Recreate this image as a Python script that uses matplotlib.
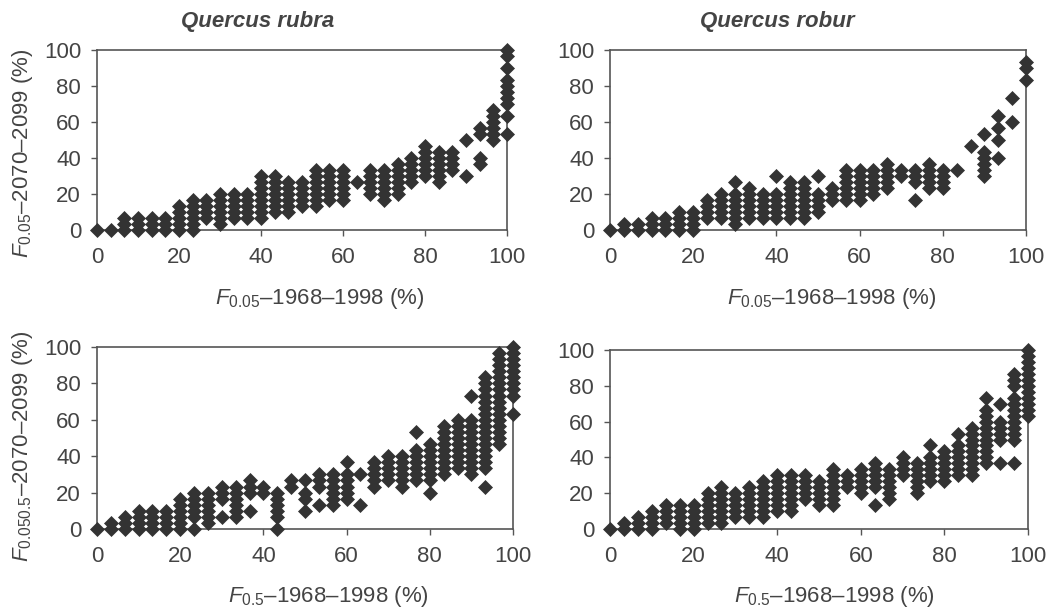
import matplotlib
matplotlib.use("Agg")
import matplotlib.pyplot as plt

# ==============================
# FONTS
# ==============================
plt.rcParams['font.family'] = ['Liberation Sans', 'DejaVu Sans']
plt.rcParams['mathtext.fontset'] = 'custom'
plt.rcParams['mathtext.rm'] = 'Liberation Sans'
plt.rcParams['mathtext.it'] = 'Liberation Sans:italic'
plt.rcParams['mathtext.bf'] = 'Liberation Sans:bold'

# ==============================
# DATA (number of frost years out of 30)
# ==============================
YEARS = 30
X_COLS = [0, 1, 2, 3, 4, 5, 6, 7, 8, 9, 10, 11, 12, 13, 14, 15,
          16, 17, 18, 19, 20, 21, 22, 23, 24, 25, 26, 27, 28, 29, 30]

# Quercus rubra, F0.05
rubra_005 = [
    [0], [0], [0, 1, 2], [0, 1, 2], [0, 1, 2], [0, 1, 2],
    [0, 1, 2, 3, 4], [0, 1, 2, 3, 4, 5], [2, 3, 4, 5], [1, 2, 3, 4, 5, 6],
    [2, 3, 4, 5, 6], [2, 3, 4, 5, 6], [2, 3, 4, 5, 6, 7, 8, 9],
    [3, 4, 5, 6, 7, 8, 9], [3, 4, 5, 6, 7, 8], [4, 5, 6, 7, 8],
    [4, 5, 6, 7, 8, 9, 10], [5, 6, 7, 8, 9, 10], [5, 6, 7, 8, 9, 10], [8],
    [6, 7, 8, 9, 10], [5, 6, 7, 8, 9, 10], [6, 7, 8, 9, 10, 11],
    [8, 9, 10, 11, 12], [9, 10, 11, 12, 13, 14], [8, 9, 10, 11, 12, 13],
    [10, 11, 12, 13], [9, 15], [11, 12, 16, 17], [15, 16, 17, 18, 19, 20],
    [16, 19, 21, 22, 23, 24, 25, 27, 29, 30],
]

# Quercus robur, F0.05
robur_005 = [
    [0], [0, 1], [0, 1], [0, 1, 2], [0, 1, 2], [0, 1, 2, 3], [0, 1, 2, 3],
    [2, 3, 4, 5], [2, 3, 4, 5, 6], [1, 2, 3, 4, 5, 6, 8], [2, 3, 4, 5, 6, 7],
    [2, 3, 4, 5, 6], [2, 3, 4, 5, 6, 9], [2, 3, 4, 5, 6, 7, 8],
    [2, 3, 4, 5, 6, 7, 8], [3, 4, 5, 6, 9], [5, 6, 7], [5, 6, 7, 8, 9, 10],
    [5, 6, 7, 8, 9, 10], [6, 7, 8, 9, 10], [7, 8, 9, 10, 11], [9, 10],
    [5, 8, 9, 10], [7, 8, 9, 10, 11], [7, 8, 9, 10], [10], [14],
    [9, 10, 11, 12, 13, 16], [12, 15, 17, 19], [18, 22], [25, 27, 28],
]

# Quercus rubra, F0.5
rubra_05 = [
    [0], [0, 1], [0, 1, 2], [0, 1, 2, 3], [0, 1, 2, 3], [0, 1, 2, 3],
    [0, 1, 2, 3, 4, 5], [0, 2, 3, 4, 5, 6], [1, 2, 3, 4, 5, 6], [2, 5, 6, 7],
    [2, 3, 4, 5, 6, 7], [3, 6, 7, 8], [6, 7], [0, 2, 3, 4, 5, 6], [7, 8],
    [3, 5, 6, 8], [4, 7, 8, 9], [4, 5, 6, 7, 8, 9], [5, 6, 7, 8, 9, 11],
    [4, 9], [7, 8, 9, 10, 11], [8, 9, 10, 11, 12], [7, 8, 9, 10, 11, 12],
    [8, 9, 10, 11, 12, 13, 16], [6, 8, 9, 10, 11, 12, 13, 14],
    [9, 10, 11, 12, 13, 14, 15, 16, 17],
    [10, 11, 12, 13, 14, 15, 16, 17, 18],
    [9, 10, 11, 12, 13, 14, 15, 16, 17, 18, 22],
    [7, 10, 11, 12, 13, 14, 15, 16, 17, 18, 19, 20, 21, 22, 23, 24, 25],
    [14, 15, 16, 17, 18, 19, 20, 21, 22, 23, 24, 25, 26, 27, 28, 29],
    [19, 22, 23, 24, 25, 26, 27, 28, 29, 30],
]

# Quercus robur, F0.5
robur_05 = [
    [0], [0, 1], [0, 1, 2], [0, 1, 2, 3], [1, 2, 3, 4], [0, 1, 2, 3, 4],
    [0, 1, 2, 3, 4], [1, 2, 3, 4, 5, 6], [1, 2, 3, 4, 5, 6, 7],
    [2, 3, 4, 5, 6], [2, 3, 4, 5, 6, 7], [2, 3, 4, 5, 6, 7, 8],
    [3, 4, 5, 6, 7, 8, 9], [3, 4, 5, 6, 7, 8, 9], [5, 6, 7, 8, 9],
    [4, 5, 6, 7, 8], [4, 5, 6, 7, 8, 9, 10], [7, 8, 9], [6, 7, 8, 9, 10],
    [4, 7, 8, 9, 10, 11], [5, 6, 7, 8, 9, 10], [9, 10, 11, 12],
    [6, 7, 8, 9, 10, 11], [8, 9, 10, 11, 12, 14], [8, 9, 10, 11, 12, 13],
    [9, 10, 11, 12, 13, 14, 16], [9, 10, 11, 12, 13, 14, 15, 16, 17],
    [11, 12, 13, 14, 15, 16, 17, 18, 19, 20, 22],
    [11, 15, 16, 17, 18, 21],
    [11, 15, 16, 17, 18, 19, 20, 21, 22, 24, 25, 26],
    [19, 20, 21, 22, 23, 24, 25, 26, 27, 28, 29, 30],
]

TITLES = ['Quercus rubra', 'Quercus robur']
XLABELS = [r'$F_{0.05}$–1968–1998 (%)', r'$F_{0.5}$–1968–1998 (%)']
YLABELS = [r'$F_{0.05}$–2070–2099 (%)', r'$F_{0.050.5}$–2070–2099 (%)']
TICKS = [0, 20, 40, 60, 80, 100]

# ==============================
# FIGURE
# ==============================
W, H = 1049, 612
fig = plt.figure(figsize=(W / 100, H / 100), dpi=100)
TXT = '#444444'
AXC = '#555555'
FS = 16


def px_axes(l, t, r, b):
    return fig.add_axes([l / W, 1 - b / H, (r - l) / W, (b - t) / H])


def draw(ax, cols):
    xs, ys = [], []
    for k, col in zip(X_COLS, cols):
        for v in col:
            xs.append(k * 100 / YEARS)
            ys.append(v * 100 / YEARS)
    ax.plot(xs, ys, linestyle='none', marker='D', ms=7.2, mew=0.5,
            color='#333333', mec='#333333', clip_on=False, zorder=3)
    ax.set_xlim(0, 100)
    ax.set_ylim(0, 100)
    ax.set_xticks(TICKS)
    ax.set_yticks(TICKS)
    for s in ax.spines.values():
        s.set_color(AXC)
        s.set_linewidth(1.2)
    ax.tick_params(axis='both', direction='out', length=4.5, width=1.0,
                   color=AXC, labelsize=FS, labelcolor=TXT)
    ax.tick_params(axis='x', pad=8)
    ax.tick_params(axis='y', pad=7)


panels = [
    (px_axes(97, 50, 507, 230), rubra_005),
    (px_axes(610, 50, 1026, 230), robur_005),
    (px_axes(97, 347, 513, 529), rubra_05),
    (px_axes(610, 350, 1028, 529), robur_05),
]
for ax, cols in panels:
    draw(ax, cols)

# titles
fig.text(258 / W, 1 - 21 / H, TITLES[0], ha='center', va='center',
         fontsize=FS, fontweight='bold', fontstyle='italic', color=TXT)
fig.text(777 / W, 1 - 21 / H, TITLES[1], ha='center', va='center',
         fontsize=FS, fontweight='bold', fontstyle='italic', color=TXT)

# x labels
fig.text(320 / W, 1 - 304 / H, XLABELS[0], ha='center', va='baseline', fontsize=FS, color=TXT)
fig.text(832 / W, 1 - 304 / H, XLABELS[0], ha='center', va='baseline', fontsize=FS, color=TXT)
fig.text(328 / W, 1 - 602 / H, XLABELS[1], ha='center', va='baseline', fontsize=FS, color=TXT)
fig.text(834 / W, 1 - 602 / H, XLABELS[1], ha='center', va='baseline', fontsize=FS, color=TXT)

# y labels
fig.text(23 / W, 1 - 153 / H, YLABELS[0], ha='center', va='center', rotation=90,
         fontsize=FS, color=TXT)
fig.text(23 / W, 1 - 446 / H, YLABELS[1], ha='center', va='center', rotation=90,
         fontsize=FS, color=TXT)

fig.savefig('out.png', dpi=100)
